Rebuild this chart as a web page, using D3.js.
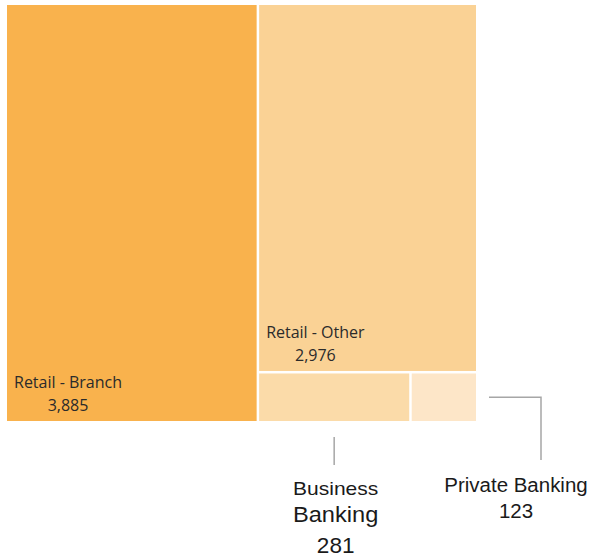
<!DOCTYPE html>
<html>
<head>
<meta charset="utf-8">
<script src="https://cdn.jsdelivr.net/npm/d3@7"></script>
<style>
  html, body { margin: 0; padding: 0; background: #fff; }
  svg { display: block; }
</style>
</head>
<body>
<svg id="chart" width="593" height="558"></svg>
<script>
// Segment data
const categories = ["Retail - Branch", "Retail - Other", "Business Banking", "Private Banking"];
const values = [3885, 2976, 281, 123];
const colors = ["#F9B24D", "#FAD295", "#FBDBA9", "#FDE6C8"];

const svg = d3.select("#chart");
const W = 469, H = 416, ox = 7, oy = 5;

const root = d3.hierarchy({ children: categories.map((c, i) => ({ name: c, value: values[i], color: colors[i] })) })
  .sum(d => d.value || 0)
  .sort((a, b) => b.value - a.value);

d3.treemap()
  .tile(d3.treemapSquarify.ratio(1))
  .size([W, H])
  .paddingInner(2.5)(root);

const fmt = d3.format(",");
const g = svg.append("g").attr("transform", `translate(${ox},${oy})`);

const leaves = root.leaves();
g.selectAll("rect").data(leaves).join("rect")
  .attr("x", d => d.x0).attr("y", d => d.y0)
  .attr("width", d => d.x1 - d.x0).attr("height", d => d.y1 - d.y0)
  .attr("fill", d => d.data.color);

// Labels inside the two large tiles
const inner = leaves.filter(d => d.data.name.startsWith("Retail"));
inner.forEach(d => {
  const lg = g.append("g")
    .attr("font-family", "'Segoe UI', 'Open Sans', 'Noto Sans', sans-serif")
    .attr("font-size", 16).attr("fill", "#2b2b2b");
  const t1 = lg.append("text").attr("x", d.x0 + 7).attr("y", d.y1 - 33).text(d.data.name);
  const w = t1.node().getComputedTextLength();
  lg.append("text").attr("x", d.x0 + 7 + w / 2).attr("y", d.y1 - 10)
    .attr("text-anchor", "middle").text(fmt(d.data.value));
});

// Callout labels for the two small tiles
const lineColor = "#a6a6a6";
const bb = leaves.find(d => d.data.name === "Business Banking");
const pb = leaves.find(d => d.data.name === "Private Banking");

const bx = (bb.x0 + bb.x1) / 2;
g.append("line")
  .attr("x1", bx).attr("x2", bx)
  .attr("y1", bb.y1 + 16).attr("y2", bb.y1 + 44)
  .attr("stroke", lineColor).attr("stroke-width", 1.5);

const py = (pb.y0 + pb.y1) / 2;
const pcx = 534;
g.append("path")
  .attr("d", `M${pb.x1 + 13},${py}H${pcx}V${pb.y1 + 39}`)
  .attr("fill", "none").attr("stroke", lineColor).attr("stroke-width", 1.5);

// each line: [text, baseline, font size, horizontal stretch]
function callout(cx, rows) {
  rows.forEach(([s, y, size, sx]) => {
    g.append("g")
      .attr("transform", `translate(${cx},${y}) scale(${sx},1)`)
      .append("text")
      .attr("text-anchor", "middle")
      .attr("font-family", "'Liberation Sans', Arial, sans-serif")
      .attr("font-size", size).attr("fill", "#1a1a1a")
      .text(s);
  });
}
callout(bx + 1.5, [
  ["Business", bb.y1 + 74, 17.5, 1.2],
  ["Banking", bb.y1 + 101, 21.5, 1.1],
  [fmt(bb.data.value), bb.y1 + 132, 21.5, 1.05]
]);
callout(509, [
  ["Private Banking", pb.y1 + 71, 19.5, 1.05],
  [fmt(pb.data.value), pb.y1 + 96.5, 19.5, 1.05]
]);
</script>
</body>
</html>
